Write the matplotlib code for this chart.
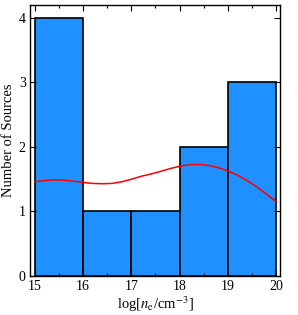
import matplotlib
matplotlib.use("Agg")
import matplotlib.pyplot as plt
from matplotlib.ticker import MultipleLocator

plt.rcParams['font.family'] = ['Liberation Serif', 'DejaVu Serif']
plt.rcParams['mathtext.fontset'] = 'stix'

bin_edges = [15, 16, 17, 18, 19, 20]
counts = [4, 1, 1, 2, 3]

curve_x = [15.0, 15.2, 15.4, 15.6, 15.8, 16.0, 16.2, 16.4, 16.6, 16.8, 17.0, 17.2,
           17.4, 17.6, 17.8, 18.0, 18.2, 18.4, 18.6, 18.8, 19.0, 19.2, 19.4, 19.6,
           19.8, 20.0]
curve_y = [1.46, 1.48, 1.49, 1.485, 1.47, 1.45, 1.435, 1.43, 1.435, 1.46, 1.50, 1.545,
           1.58, 1.62, 1.665, 1.70, 1.725, 1.73, 1.715, 1.68, 1.63, 1.56, 1.48, 1.38,
           1.27, 1.15]

fig = plt.figure(figsize=(2.98, 3.15), dpi=100)
ax = fig.add_axes([0.1007, 0.1238, 0.8389, 0.8602])

widths = [bin_edges[i+1] - bin_edges[i] for i in range(len(counts))]
ax.bar(bin_edges[:-1], counts, width=widths, align='edge', color='#1E90FF',
       edgecolor='black', linewidth=1.2)
ax.plot(curve_x, curve_y, color='red', lw=1.1)

ax.set_xlim(14.9, 20.08)
ax.set_ylim(0, 4.2)
ax.xaxis.set_major_locator(MultipleLocator(1))
ax.xaxis.set_minor_locator(MultipleLocator(0.5))
ax.yaxis.set_major_locator(MultipleLocator(1))
ax.tick_params(which='both', direction='in', top=True, right=True, labelsize=10)
ax.tick_params(which='major', length=4, width=0.8, pad=3)
ax.tick_params(which='minor', length=2.5, width=0.8)
for s in ax.spines.values():
    s.set_linewidth(1.0)
ax.set_xlabel(r'log[$n_{\rm e}$/cm$^{-3}$]', fontsize=10.5, labelpad=1)
ax.set_ylabel('Number of Sources', fontsize=10.5, labelpad=3)

fig.savefig('out.png', dpi=100)
